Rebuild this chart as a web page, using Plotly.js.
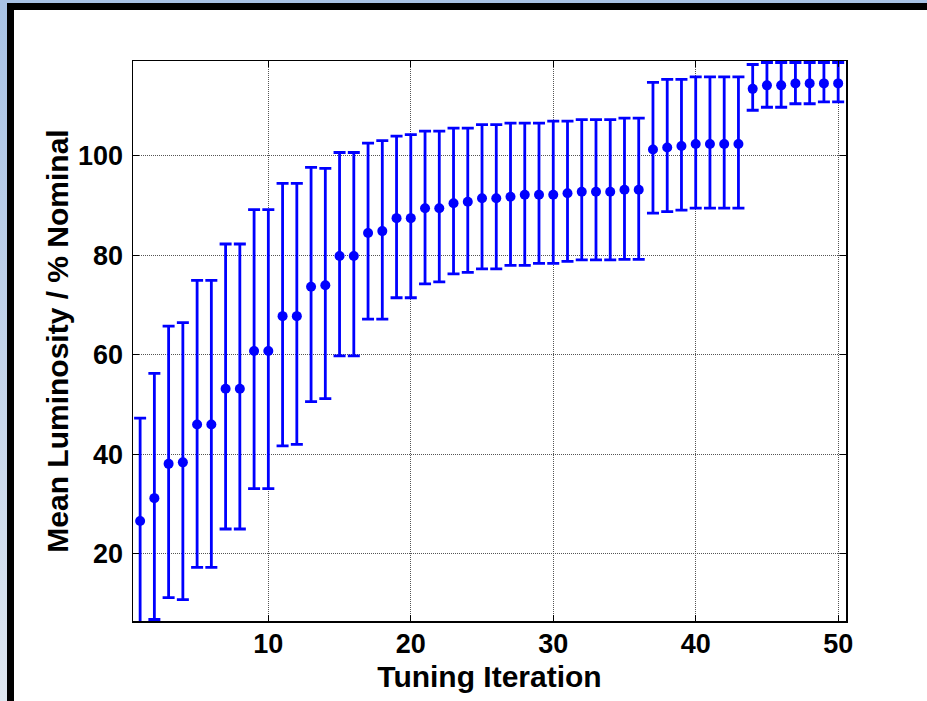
<!DOCTYPE html>
<html>
<head>
<meta charset="utf-8">
<script src="https://cdn.plot.ly/plotly-3.0.1.min.js"></script>
<style>
  html, body { margin: 0; padding: 0; }
  #outer { position: absolute; left: 0; top: 0; width: 927px; height: 701px; overflow: hidden;
           background: linear-gradient(to bottom, #a9c3e6 0%, #c9d8ec 60%, #dfe7f1 100%); }
  #frame { position: absolute; left: 7px; top: 3px; width: 960px; height: 760px;
           border-left: 7px solid #000; border-top: 7px solid #000; background: #fff; }
  #chart { position: absolute; left: 0; top: 0; width: 927px; height: 701px; }
</style>
</head>
<body>
<div id="outer">
  <div id="frame"></div>
  <div id="chart"></div>
</div>
<script>
// Tuning iteration number
const iteration = [1,2,3,4,5,6,7,8,9,10,11,12,13,14,15,16,17,18,19,20,
                   21,22,23,24,25,26,27,28,29,30,31,32,33,34,35,36,37,38,39,40,
                   41,42,43,44,45,46,47,48,49,50];
// Mean luminosity (% nominal)
const meanLumi = [26.6,31.2,38.1,38.4,46.0,46.0,53.2,53.2,60.8,60.8,
                  67.8,67.8,73.7,74.0,79.9,79.9,84.5,84.9,87.5,87.5,
                  89.5,89.5,90.5,90.8,91.5,91.5,91.8,92.2,92.2,92.2,
                  92.5,92.8,92.8,92.8,93.2,93.2,101.3,101.7,102.0,102.4,
                  102.4,102.4,102.4,113.5,114.2,114.2,114.6,114.6,114.6,114.6];
// Upper end of error bar
const upperLumi = [47.3,56.3,65.8,66.5,75.0,75.0,82.3,82.3,89.2,89.2,
                   94.5,94.5,97.7,97.5,100.7,100.7,102.6,103.1,104.0,104.3,
                   105.0,105.0,105.6,105.6,106.3,106.3,106.6,106.6,106.6,107.0,
                   107.0,107.3,107.3,107.3,107.6,107.6,114.8,115.4,115.4,115.9,
                   115.9,115.9,115.9,118.4,118.8,118.8,118.8,118.8,118.8,118.8];
// Lower end of error bar
const lowerLumi = [5.9,6.8,11.2,10.8,17.3,17.3,25.0,25.0,33.1,33.1,
                   41.7,42.0,50.6,51.2,59.8,59.8,67.2,67.2,71.5,71.5,
                   74.3,74.7,76.3,76.6,77.3,77.3,78.0,78.0,78.4,78.4,
                   78.8,79.1,79.1,79.1,79.2,79.2,88.5,88.8,89.1,89.5,
                   89.5,89.5,89.5,109.2,109.8,109.8,110.5,110.5,110.9,110.9];
const xTicks = [10, 20, 30, 40, 50];
const yTicks = [20, 40, 60, 80, 100];

const errPlus = upperLumi.map((u, i) => u - meanLumi[i]);
const errMinus = lowerLumi.map((l, i) => meanLumi[i] - l);

const trace = {
  type: 'scatter',
  mode: 'markers',
  x: iteration,
  y: meanLumi,
  marker: { color: '#0000ff', size: 10 },
  error_y: {
    type: 'data', symmetric: false,
    array: errPlus, arrayminus: errMinus,
    color: '#0000ff', thickness: 2.8, width: 6
  },
  showlegend: false,
  hoverinfo: 'x+y'
};

const fontFam = 'Liberation Sans, Arial, Helvetica, sans-serif';
const axisCommon = {
  showline: true, linecolor: '#000', linewidth: 1.5, mirror: 'ticks',
  ticks: 'inside', ticklen: 6, tickcolor: '#000', tickwidth: 1,
  showgrid: true, gridcolor: '#555', gridwidth: 1, griddash: '1px,1px',
  zeroline: false,
  tickfont: { family: fontFam, size: 27, color: '#000', weight: 'bold' }
};

const layout = {
  width: 927, height: 701,
  margin: { l: 133, r: 81, t: 61, b: 80 },
  paper_bgcolor: 'rgba(0,0,0,0)',
  plot_bgcolor: '#ffffff',
  xaxis: Object.assign({}, axisCommon, {
    range: [0.5, 50.55], tickmode: 'array', tickvals: xTicks, ticktext: xTicks.map(String),
    ticklabelstandoff: -2,
    title: { text: 'Tuning Iteration', standoff: 8,
             font: { family: fontFam, size: 30, color: '#000', weight: 'bold' } }
  }),
  yaxis: Object.assign({}, axisCommon, {
    range: [6.5, 119.1], tickmode: 'array', tickvals: yTicks, ticktext: yTicks.map(String),
    ticklabelstandoff: 3,
    title: { text: 'Mean Luminosity / % Nominal', standoff: 0,
             font: { family: fontFam, size: 30, color: '#000', weight: 'bold' } }
  })
};

Plotly.newPlot('chart', [trace], layout, { displayModeBar: false, staticPlot: true });
</script>
</body>
</html>
